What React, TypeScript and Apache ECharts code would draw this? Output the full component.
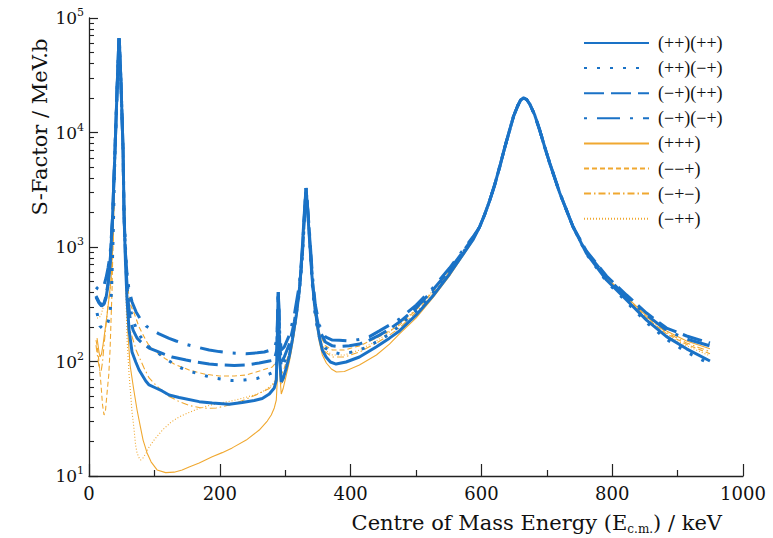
import React, { useEffect, useRef } from 'react';
import * as echarts from 'echarts';

const FONT = 'DejaVu Serif';
const BLUE = '#1a72c6';
const ORANGE = '#f0a830';

const seriesNames = ['(++)(++)', '(++)(−+)', '(−+)(++)', '(−+)(−+)', '(+++)', '(−−+)', '(−+−)', '(−++)'];

const xTicks = [0, 200, 400, 600, 800, 1000];
const yDecades = [10, 100, 1000, 10000, 100000];

// shared segments (E in keV, S in MeV.b)
const spikeBlue = [[39.8, 7035], [42.9, 23510], [45.2, 54700], [45.9, 66880], [46.7, 58120], [49.0, 25990], [52.1, 7035], [53.6, 1903]];
const spikeOrange = [[39.8, 6756], [42.9, 23510], [45.2, 52540], [45.9, 61720], [46.7, 52540], [49.0, 24470], [52.1, 6756], [54.4, 2104]];
const broadPeak = [[597.2, 1494], [605.0, 1923], [612.6, 2539], [620.0, 3443], [627.9, 4995], [635.5, 7321], [643.2, 10510], [649.3, 13940], [655.4, 17040], [660.0, 19220], [664.6, 20010], [669.2, 19420], [673.8, 17740], [681.5, 14220], [689.1, 10510], [696.8, 7470], [704.4, 5415], [719.8, 2962], [740.1, 1504]];

// (++)(++)
const s1Left = [[10.7, 366], [15.3, 324], [19.1, 305], [23.0, 318], [26.0, 359], [29.1, 466], [32.2, 696], [35.7, 1653]];
const s1Mid = [[55.9, 696], [58.2, 344], [61.3, 188], [65.8, 121], [71.5, 99], [76.6, 84.3], [86.8, 67.6], [91.9, 62.4], [102.1, 58.7], [111.8, 55.3], [122.5, 51.0], [137.8, 48.5], [168.5, 44.6], [188.4, 43.4], [214.4, 42.3], [234.3, 43.9], [252.7, 45.6], [264.9, 47.5], [275.7, 52.0], [283.3, 58.7], [286.4, 68.9], [287.9, 154], [289.0, 344], [289.4, 405], [290.2, 282], [291.7, 103], [294.0, 66.2], [297.1, 71.8], [301.7, 87.8], [306.3, 112], [310.9, 154], [317.0, 255], [321.6, 421], [324.7, 696], [327.7, 1408], [330.0, 2327], [331.9, 3276], [333.8, 2327], [336.9, 1223], [340.8, 569], [344.6, 324], [349.2, 208], [352.2, 164], [356.8, 126], [362.5, 109.5], [369.1, 99], [377.8, 95], [393.1, 99], [413.5, 109.5], [439.0, 134], [459.4, 160], [474.7, 185], [500.3, 255], [525.7, 373], [551.3, 581], [587.0, 1151]];
const s1Tail = [[760.6, 881], [791.3, 515], [821.9, 344], [852.5, 230], [883.1, 165], [913.8, 129], [949.5, 101]];

// (++)(−+)
const s2Left = [[12.3, 265], [16.8, 204], [21.4, 192], [26.0, 200], [29.1, 221], [32.2, 260], [34.5, 421], [36.8, 1151]];
const s2Mid = [[56.7, 770], [59.7, 421], [62.8, 293], [67.4, 230], [72.0, 196], [78.1, 167], [85.8, 145], [94.9, 129], [104.1, 121], [113.3, 109.5], [122.5, 101], [140.9, 87.8], [157.7, 81.0], [179.2, 74.7], [196.0, 71.1], [217.5, 68.3], [237.4, 68.9], [257.3, 71.1], [275.7, 77.8], [283.3, 81.0], [287.1, 99], [288.7, 230], [289.4, 405], [290.2, 282], [291.7, 126], [294.0, 87.8], [298.6, 99], [306.3, 126], [313.9, 196], [321.6, 397], [326.2, 802], [330.0, 2022], [331.9, 3276], [333.8, 2327], [336.9, 1299], [341.5, 466], [346.1, 240], [352.2, 164], [361.4, 131], [372.1, 121], [385.9, 116], [402.8, 121], [421.1, 131], [439.5, 148], [459.4, 174], [474.7, 204], [500.3, 276], [525.7, 397], [551.3, 617], [587.0, 1175]];
const s2Tail = [[760.6, 869], [791.3, 500], [821.9, 331], [852.5, 219], [883.1, 156], [913.8, 121], [949.5, 95]];

// (−+)(++)
const s3Left = [[10.7, 373], [15.3, 331], [19.9, 311], [23.0, 324], [26.0, 373], [29.1, 485], [32.2, 725], [35.7, 1653]];
const s3Mid = [[56.7, 630], [59.7, 344], [62.8, 240], [67.4, 188], [73.5, 160], [81.2, 145], [91.9, 131], [102.6, 124], [114.9, 116], [127.1, 109.5], [148.5, 103], [163.9, 99], [183.8, 95], [203.7, 93.2], [222.1, 92.3], [240.4, 93.2], [260.3, 97], [275.7, 101], [283.3, 103], [287.1, 126], [288.7, 255], [289.4, 405], [290.2, 293], [291.7, 139], [294.0, 99], [298.6, 109.5], [306.3, 142], [313.9, 221], [321.6, 421], [326.2, 852], [330.0, 2104], [331.9, 3276], [333.8, 2374], [336.9, 1352], [341.5, 515], [346.1, 282], [352.2, 188], [361.4, 148], [372.1, 137], [382.8, 135], [398.2, 137], [413.5, 142], [428.8, 154], [444.1, 170], [459.4, 192], [474.7, 221], [500.3, 293], [525.7, 421], [551.3, 630], [587.0, 1198]];
const s3Tail = [[760.6, 923], [791.3, 558], [821.9, 381], [852.5, 265], [883.1, 196], [913.8, 167], [949.5, 145]];

// (−+)(−+)
const s4Left = [[10.7, 447], [13.8, 430], [16.8, 421], [19.9, 430], [23.0, 466], [26.0, 536], [29.1, 655], [32.2, 852], [35.7, 1653]];
const s4Mid = [[55.9, 852], [58.2, 569], [61.3, 421], [65.8, 331], [72.0, 271], [79.6, 230], [87.3, 204], [99.5, 185], [107.2, 174], [122.5, 159], [133.2, 151], [148.5, 141], [163.9, 134], [183.8, 126], [199.1, 122], [214.4, 119], [240.4, 117], [257.3, 119], [268.0, 121], [283.3, 129], [287.1, 154], [288.7, 282], [289.4, 405], [290.2, 311], [291.7, 170], [294.0, 126], [298.6, 134], [306.3, 170], [313.9, 255], [321.6, 466], [326.2, 941], [330.0, 2190], [331.9, 3276], [333.8, 2423], [336.9, 1408], [341.5, 569], [346.1, 311], [352.2, 208], [361.4, 164], [372.1, 154], [382.8, 153], [398.2, 151], [413.5, 156], [428.8, 165], [444.1, 185], [459.4, 208], [474.7, 235], [500.3, 311], [525.7, 438], [551.3, 655], [587.0, 1223]];
const s4Tail = [[760.6, 904], [791.3, 547], [821.9, 366], [852.5, 255], [883.1, 187], [913.8, 157], [949.5, 137]];

// (+++)
const s5Left = [[12.3, 160], [15.3, 121], [16.8, 109.5], [19.1, 116], [21.4, 139], [24.5, 188], [27.6, 255], [30.6, 359], [33.7, 515], [36.8, 1151]];
const s5Mid = [[56.7, 421], [59.7, 170], [62.8, 93.2], [68.5, 56.4], [73.5, 37.7], [78.6, 26.8], [82.7, 20.6], [88.8, 15.9], [94.9, 13.3], [104.1, 11.3], [117.2, 10.7], [130.2, 10.8], [142.4, 11.3], [153.1, 12.0], [168.5, 13.0], [188.4, 14.7], [203.7, 16.0], [219.0, 17.6], [240.4, 20.6], [260.3, 25.2], [272.6, 30.2], [278.7, 34.1], [283.3, 39.3], [286.4, 46.1], [287.9, 68.9], [289.0, 188], [289.4, 271], [290.2, 170], [291.7, 76.2], [294.0, 52.0], [297.1, 58.7], [301.7, 76.2], [306.3, 99], [310.9, 137], [317.0, 230], [321.6, 381], [324.7, 655], [327.7, 1273], [330.0, 2104], [331.9, 2845], [333.8, 2022], [336.9, 1106], [340.8, 515], [344.6, 293], [349.2, 188], [352.2, 148], [356.8, 114], [362.9, 97], [370.6, 86.0], [378.3, 81.0], [390.5, 81.8], [413.5, 93.2], [439.5, 114], [459.4, 142], [474.7, 174], [500.3, 240], [525.7, 359], [551.3, 558], [587.0, 1128]];
const s5Tail = [[760.6, 904], [791.3, 542], [821.9, 366], [852.5, 250], [883.1, 185], [913.8, 151], [949.5, 129]];

// (−−+)
const s6Left = [[10.7, 154], [12.3, 139], [15.3, 99], [18.4, 62.4], [20.7, 41.7], [23.0, 34.1], [25.3, 37.7], [27.6, 53.1], [30.2, 76.2], [32.2, 126], [33.7, 230], [35.2, 421], [36.8, 1151]];
const s6Mid = [[56.7, 696], [59.0, 466], [61.3, 366], [64.3, 305], [68.9, 265], [76.6, 200], [86.8, 154], [91.9, 137], [102.6, 121], [117.5, 105], [130.2, 95], [153.1, 84.3], [176.1, 77.8], [199.1, 74.7], [222.1, 74.7], [240.4, 76.2], [255.7, 81.0], [280.2, 89.5], [286.4, 99], [288.7, 188], [289.4, 271], [290.2, 188], [291.7, 99], [294.0, 76.2], [298.6, 87.8], [306.3, 121], [313.9, 204], [321.6, 405], [326.2, 802], [330.0, 1982], [331.9, 2845], [333.8, 2104], [336.9, 1198], [341.5, 485], [346.1, 265], [352.2, 177], [361.4, 137], [372.1, 126], [390.5, 126], [413.5, 137], [439.5, 160], [459.4, 185], [474.7, 208], [500.3, 282], [525.7, 405], [551.3, 617], [587.0, 1175]];
const s6Tail = [[760.6, 895], [791.3, 531], [821.9, 355], [852.5, 240], [883.1, 175], [913.8, 141], [949.5, 117]];

// (−+−)
const s7Left = [[10.7, 139], [13.8, 103], [16.1, 84.3], [18.4, 81.0], [20.7, 99], [23.0, 139], [26.0, 208], [29.1, 311], [32.2, 421], [34.5, 569], [36.8, 1151]];
const s7Mid = [[56.7, 569], [59.7, 282], [62.8, 188], [67.4, 154], [72.0, 126], [76.6, 109.5], [84.2, 87.8], [91.9, 71.8], [102.1, 62.4], [111.8, 55.3], [122.5, 49.5], [137.8, 44.7], [153.1, 41.3], [168.5, 39.7], [180.7, 39.0], [194.5, 39.3], [208.3, 40.9], [224.7, 43.4], [240.4, 47.0], [255.3, 51.0], [268.0, 55.3], [275.7, 58.1], [284.8, 66.2], [288.4, 154], [289.4, 271], [290.2, 170], [291.7, 84.3], [294.0, 62.4], [298.6, 71.8], [306.3, 103], [313.9, 177], [321.6, 373], [326.2, 770], [330.0, 1942], [331.9, 2845], [333.8, 2063], [336.9, 1151], [341.5, 456], [346.1, 240], [352.2, 154], [361.4, 121], [372.1, 109.5], [390.5, 109.5], [413.5, 121], [439.5, 145], [459.4, 170], [474.7, 196], [500.3, 271], [525.7, 389], [551.3, 605], [587.0, 1151]];
const s7Tail = [[760.6, 895], [791.3, 536], [821.9, 359], [852.5, 245], [883.1, 179], [913.8, 145], [949.5, 122]];

// (−++)
const s8Left = [[12.3, 240], [15.3, 240], [18.4, 255], [21.4, 293], [24.5, 344], [27.6, 405], [30.6, 495], [33.7, 655], [36.8, 1151]];
const s8Mid = [[56.7, 344], [58.2, 154], [61.3, 76.2], [63.2, 56.4], [65.8, 36.2], [68.5, 26.8], [71.2, 18.7], [73.5, 15.9], [76.6, 14.4], [78.9, 13.8], [82.7, 14.4], [87.3, 15.9], [91.9, 17.9], [99.5, 20.6], [112.3, 25.2], [125.6, 29.6], [137.8, 32.8], [153.1, 35.9], [168.5, 39.0], [183.8, 41.3], [199.1, 43.2], [217.5, 45.2], [234.3, 47.7], [249.6, 50.5], [265.4, 54.5], [275.7, 59.9], [280.2, 62.4], [286.4, 71.8], [288.7, 154], [289.4, 271], [290.2, 177], [291.7, 87.8], [294.0, 66.2], [298.6, 76.2], [306.3, 107], [313.9, 185], [321.6, 381], [326.2, 786], [330.0, 1982], [331.9, 2845], [333.8, 2063], [336.9, 1151], [341.5, 466], [346.1, 250], [352.2, 160], [361.4, 126], [372.1, 114], [390.5, 114], [413.5, 126], [439.5, 151], [459.4, 181], [474.7, 213], [500.3, 287], [525.7, 413], [551.3, 630], [587.0, 1175]];
const s8Tail = [[760.6, 886], [791.3, 525], [821.9, 352], [852.5, 235], [883.1, 170], [913.8, 137], [949.5, 112]];

const blueData = [
  [...s1Left, ...spikeBlue, ...s1Mid, ...broadPeak, ...s1Tail],
  [...s2Left, ...spikeBlue, ...s2Mid, ...broadPeak, ...s2Tail],
  [...s3Left, ...spikeBlue, ...s3Mid, ...broadPeak, ...s3Tail],
  [...s4Left, ...spikeBlue, ...s4Mid, ...broadPeak, ...s4Tail],
];
const orangeData = [
  [...s5Left, ...spikeOrange, ...s5Mid, ...broadPeak, ...s5Tail],
  [...s6Left, ...spikeOrange, ...s6Mid, ...broadPeak, ...s6Tail],
  [...s7Left, ...spikeOrange, ...s7Mid, ...broadPeak, ...s7Tail],
  [...s8Left, ...spikeOrange, ...s8Mid, ...broadPeak, ...s8Tail],
];

const blueDash: any[] = ['solid', [3, 10], [20, 7], [3, 10, 23, 10]];
const orangeDash: any[] = ['solid', [5, 3], [7, 3, 1.5, 3], [1, 2]];

const minorLogTicks: number[] = [];
for (let d = 10; d < 100000; d *= 10) {
  for (let k = 2; k <= 9; k++) minorLogTicks.push(k * d);
}

export default function App() {
  const ref = useRef<HTMLDivElement>(null);
  useEffect(() => {
    const chart = echarts.init(ref.current!, null, { renderer: 'svg' });
    const axisColor = '#222';
    const mk = (name: string, data: number[][], color: string, width: number, type: any, z: number) => ({
      name,
      type: 'line',
      data,
      symbol: 'none',
      showSymbol: false,
      z,
      lineStyle: { color, width, type, cap: 'butt' },
      itemStyle: { color },
      emphasis: { disabled: true },
    });
    const series: any[] = [];
    orangeData.forEach((d, i) => series.push(mk(seriesNames[4 + i], d, ORANGE, 1.1, orangeDash[i], 2)));
    blueData.forEach((d, i) => series.push(mk(seriesNames[i], d, BLUE, 3, blueDash[i], 3)));

    const option: any = {
      animation: false,
      backgroundColor: '#fff',
      grid: { left: 89, right: 30, top: 18, bottom: 62, containLabel: false },
      legend: {
        data: seriesNames,
        orient: 'vertical',
        left: 583,
        top: 34,
        padding: 0,
        itemWidth: 65,
        itemHeight: 14,
        itemGap: 7.1,
        selectedMode: false,
        itemStyle: { opacity: 0 },
        textStyle: { fontFamily: 'Liberation Serif', fontSize: 18, color: '#111', padding: [0, 0, 0, 4] },
      },
      xAxis: {
        type: 'value',
        min: 0,
        max: 1000,
        interval: 200,
        axisLine: { show: true, lineStyle: { color: axisColor, width: 1.3 } },
        axisTick: { show: true, inside: true, length: 12, lineStyle: { color: axisColor, width: 1.2 } },
        minorTick: { show: true, splitNumber: 2, length: 6, lineStyle: { color: axisColor, width: 1.2 } },
        axisLabel: {
          margin: 8,
          fontFamily: FONT,
          fontSize: 18,
          color: '#111',
          formatter: (v: number) => (xTicks.includes(v) ? String(v) : ''),
        },
        splitLine: { show: false },
      },
      yAxis: [
        {
          type: 'log',
          logBase: 10,
          min: yDecades[0],
          max: yDecades[yDecades.length - 1],
          axisLine: { show: true, lineStyle: { color: axisColor, width: 1.3 } },
          axisTick: { show: true, inside: true, length: 9, lineStyle: { color: axisColor, width: 1.2 } },
          axisLabel: {
            margin: 5,
            formatter: (v: number) => `{b|10}{s|${Math.round(Math.log10(v))}}`,
            rich: {
              b: { fontFamily: FONT, fontSize: 17, color: '#111', lineHeight: 22 },
              s: { fontFamily: FONT, fontSize: 11, color: '#111', lineHeight: 11, padding: [0, 0, 11, 0] },
            },
          },
          splitLine: { show: false },
        },
        {
          type: 'log',
          logBase: 10,
          min: yDecades[0],
          max: yDecades[yDecades.length - 1],
          position: 'left',
          axisLine: { show: false },
          axisTick: { show: true, inside: true, length: 5, customValues: minorLogTicks, lineStyle: { color: axisColor, width: 1.1 } },
          axisLabel: { show: false },
          splitLine: { show: false },
        },
      ],
      graphic: [
        {
          type: 'text',
          x: 722,
          y: 523,
          style: {
            text: '{a|Centre of Mass Energy (E}{b|c.m.}{a|) / keV}',
            textAlign: 'right',
            align: 'right',
            textVerticalAlign: 'middle',
            verticalAlign: 'middle',
            rich: {
              a: { fontFamily: FONT, fontSize: 21, fill: '#111', lineHeight: 24 },
              b: { fontFamily: FONT, fontSize: 12, fill: '#111', lineHeight: 12, padding: [12, 0, 0, 0] },
            },
          },
        },
        {
          type: 'text',
          x: 40,
          y: 127,
          rotation: Math.PI / 2,
          style: {
            text: 'S-Factor / MeV.b',
            fontFamily: FONT,
            fontSize: 21,
            fill: '#111',
            textAlign: 'center',
            align: 'center',
            textVerticalAlign: 'middle',
            verticalAlign: 'middle',
          },
        },
      ],
      series,
    };
    chart.setOption(option);
    return () => chart.dispose();
  }, []);
  return <div ref={ref} style={{ position: 'absolute', left: 0, top: 0, width: 773, height: 538 }} />;
}
